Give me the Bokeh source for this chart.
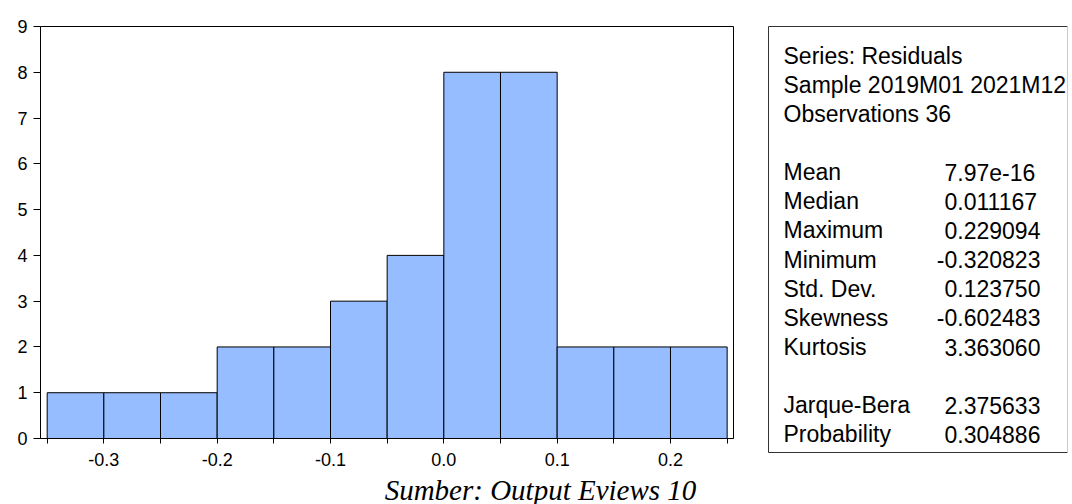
from bokeh.plotting import figure
from bokeh.models import Range1d, FixedTicker, NumeralTickFormatter
from bokeh.layouts import row, column
from bokeh.core.properties import value
from bokeh.embed import file_html
from bokeh.resources import INLINE

# ---- data ----
bin_left = [-0.35, -0.30, -0.25, -0.20, -0.15, -0.10, -0.05, 0.00, 0.05, 0.10, 0.15, 0.20]
bin_right = [-0.30, -0.25, -0.20, -0.15, -0.10, -0.05, 0.00, 0.05, 0.10, 0.15, 0.20, 0.25]
counts = [1, 1, 1, 2, 2, 3, 4, 8, 8, 2, 2, 2]
x_tick_labels = [-0.3, -0.2, -0.1, 0.0, 0.1, 0.2]
x_minor_ticks = [-0.35, -0.25, -0.15, -0.05, 0.05, 0.15, 0.25]
y_ticks = [0, 1, 2, 3, 4, 5, 6, 7, 8, 9]

header_lines = ["Series: Residuals", "Sample 2019M01 2021M12", "Observations 36"]
stat_names = ["Mean", "Median", "Maximum", "Minimum", "Std. Dev.", "Skewness", "Kurtosis"]
stat_values = ["7.97e-16", "0.011167", "0.229094", "-0.320823", "0.123750", "-0.602483", "3.363060"]
test_names = ["Jarque-Bera", "Probability"]
test_values = ["2.375633", "0.304886"]
caption = "Sumber: Output Eviews 10"

SANS = "Liberation Sans"
SERIF = "Liberation Serif"


def blank_fig(w, h):
    f = figure(width=w, height=h, output_backend="svg", toolbar_location=None,
               x_range=Range1d(0, w), y_range=Range1d(h, 0),
               min_border=0, min_border_left=0, min_border_right=0,
               min_border_top=0, min_border_bottom=0)
    f.axis.visible = False
    f.grid.visible = False
    f.outline_line_color = None
    f.background_fill_color = "white"
    f.border_fill_color = "white"
    f.frame_align = False
    return f


TOP_H = 474

# ---- histogram ----
p1 = figure(width=760, height=TOP_H, output_backend="svg", toolbar_location=None,
            x_range=Range1d(-0.3559, 0.2556), y_range=Range1d(0, 9),
            min_border_left=40, min_border_right=27, min_border_top=26, min_border_bottom=36)
p1.frame_align = False
p1.background_fill_color = "white"
p1.border_fill_color = "white"
p1.outline_line_color = "black"
p1.outline_line_width = 1
p1.xgrid.visible = False
p1.ygrid.visible = False

p1.quad(left=bin_left, right=bin_right, bottom=0, top=counts,
        fill_color="#95BDFF", line_color="black", line_width=1)

xa = p1.xaxis[0]
xa.ticker = FixedTicker(ticks=x_tick_labels, minor_ticks=x_minor_ticks)
xa.formatter = NumeralTickFormatter(format="0.0")
xa.major_tick_in = 0
xa.major_tick_out = 5
xa.minor_tick_in = 0
xa.minor_tick_out = 5
xa.axis_line_color = "black"
xa.major_tick_line_color = "black"
xa.minor_tick_line_color = "black"
xa.major_label_text_font = SANS
xa.major_label_text_font_size = "18px"
xa.major_label_text_color = "black"
xa.major_label_standoff = 9

ya = p1.yaxis[0]
ya.ticker = FixedTicker(ticks=y_ticks, minor_ticks=[])
ya.major_tick_in = 0
ya.major_tick_out = 7
ya.minor_tick_line_color = None
ya.axis_line_color = "black"
ya.major_tick_line_color = "black"
ya.major_label_text_font = SANS
ya.major_label_text_font_size = "18px"
ya.major_label_text_color = "black"
ya.major_label_standoff = 6

# ---- statistics box (pixel coordinates, x = page x - 760) ----
p2 = blank_fig(312, TOP_H)
p2.segment(x0=[8, 8, 8], y0=[26, 26, 452], x1=[307, 8, 307], y1=[26, 452, 452],
           line_color="#333333", line_width=1)
p2.segment(x0=[307], y0=[26], x1=[307], y1=[452], line_color="#cccccc", line_width=1)

line_h = 29.15
y0 = 55
label_x = 23
value_x = 184
font_kw = dict(text_font=value(SANS), text_font_size="23px", text_baseline="alphabetic",
               text_color="black")

p2.text(x=[label_x] * len(header_lines), y=[y0 + i * line_h for i in range(len(header_lines))],
        text=header_lines, text_align="left", **font_kw)

names = stat_names + test_names
vals = stat_values + test_values
idx = list(range(4, 4 + len(stat_names))) + list(range(12, 12 + len(test_names)))
ys = [y0 + k * line_h for k in idx]
p2.text(x=[label_x] * len(names), y=ys, text=names, text_align="left", **font_kw)
signs = ["-" if v.startswith("-") else "" for v in vals]
bodies = [v[1:] if v.startswith("-") else v for v in vals]
p2.text(x=[value_x] * len(bodies), y=ys, text=bodies, text_align="left", **font_kw)
p2.text(x=[value_x] * len(signs), y=ys, text=signs, text_align="right", **font_kw)

# ---- caption strip (pixel coordinates, y = page y - TOP_H) ----
p3 = blank_fig(1072, 504 - TOP_H)
p3.text(x=[540], y=[15], text=[caption], text_align="center", text_baseline="middle",
        text_font=value(SERIF), text_font_style="italic", text_font_size="29px",
        text_color="black")

layout = column(row(p1, p2, spacing=0), p3, spacing=0)
open("out.html", "w").write(file_html(layout, INLINE))
